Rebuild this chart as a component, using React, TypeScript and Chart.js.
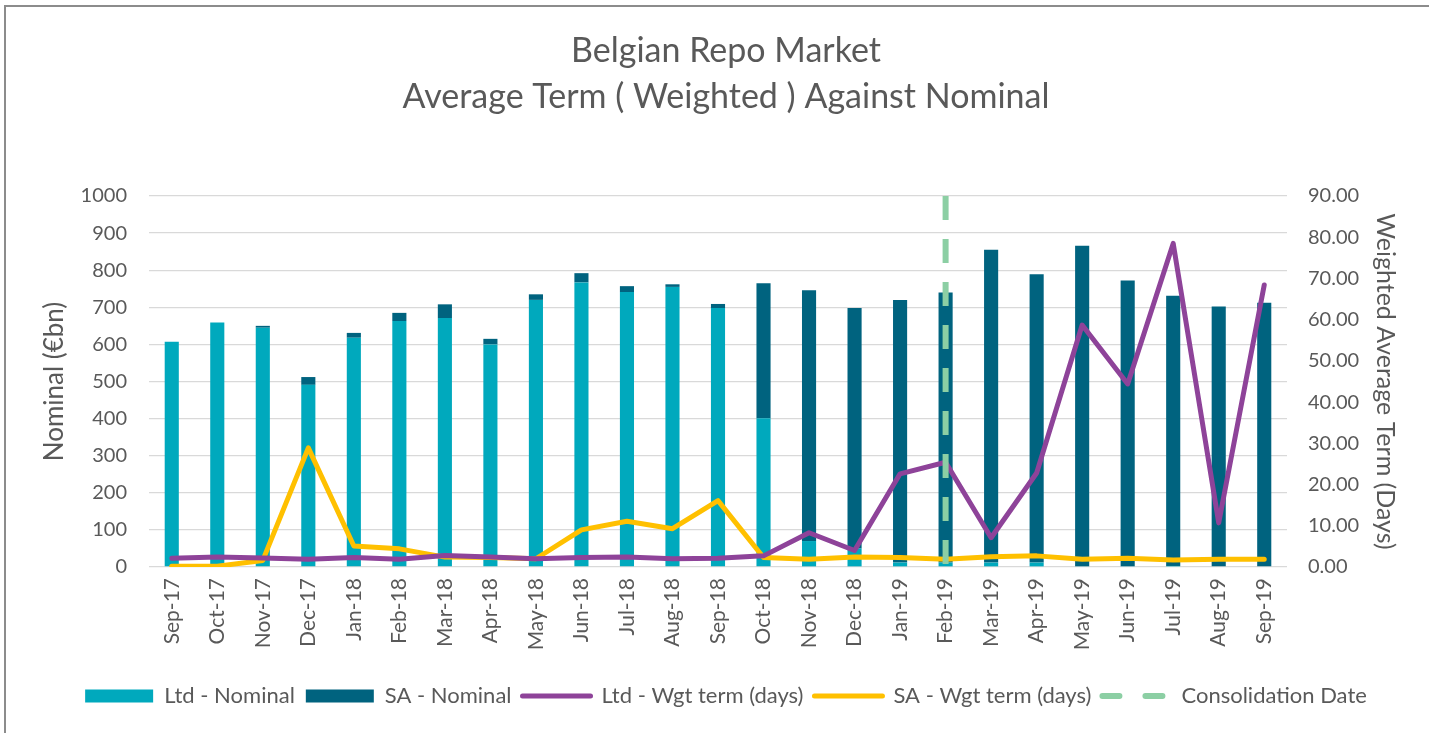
import React, { useEffect, useRef } from 'react';
import { Chart, registerables } from 'chart.js';

Chart.register(...registerables);

const categories = [
  'Sep-17', 'Oct-17', 'Nov-17', 'Dec-17', 'Jan-18', 'Feb-18', 'Mar-18', 'Apr-18', 'May-18',
  'Jun-18', 'Jul-18', 'Aug-18', 'Sep-18', 'Oct-18', 'Nov-18', 'Dec-18', 'Jan-19', 'Feb-19',
  'Mar-19', 'Apr-19', 'May-19', 'Jun-19', 'Jul-19', 'Aug-19', 'Sep-19',
];

const ltdNominal = [607, 659, 645, 491, 618, 663, 671, 600, 720, 767, 741, 755, 698, 401, 70, 50, 12, 12, 12, 12, 2, 2, 3, 0, 0];
const saNominal = [0, 0, 5, 21, 13, 22, 37, 15, 15, 25, 16, 7, 11, 364, 676, 648, 708, 728, 843, 777, 864, 770, 728, 702, 712];
const ltdTerm = [2.1, 2.4, 2.2, 1.9, 2.3, 1.9, 2.8, 2.4, 2.0, 2.3, 2.4, 2.0, 2.1, 2.7, 8.3, 4.0, 22.6, 25.4, 7.1, 22.8, 58.7, 44.4, 78.5, 10.7, 68.4];
const saTerm = [0.2, 0.2, 1.6, 28.9, 5.1, 4.4, 2.4, 2.3, 2.0, 9.0, 11.1, 9.3, 16.1, 2.3, 1.9, 2.4, 2.3, 1.9, 2.5, 2.7, 1.9, 2.1, 1.7, 1.9, 1.9];

const consolidationDate = 'Feb-19';

const seriesLabels = ['Ltd - Nominal', 'SA - Nominal', 'Ltd - Wgt term (days)', 'SA - Wgt term (days)', 'Consolidation Date'];
const titleLines = ['Belgian Repo Market', 'Average Term ( Weighted ) Against Nominal'];
const leftAxisTitle = 'Nominal (€bn)';
const rightAxisTitle = 'Weighted Average Term (Days)';
const leftTicks = { min: 0, max: 1000, step: 100 };
const rightTicks = { min: 0, max: 90, step: 10, decimals: 2 };

const FONT = 'Lato, "Open Sans", sans-serif';
const TEXT = '#595959';
const LTD_BAR = '#00A9BD';
const SA_BAR = '#00637F';
const PURPLE = '#8E4399';
const YELLOW = '#FFC000';
const GREEN = '#8CCFA4';

const consolidationPlugin = {
  id: 'consolidationLine',
  afterDatasetsDraw(chart: any) {
    const idx = categories.indexOf(consolidationDate);
    if (idx < 0) return;
    const x = chart.scales.x.getPixelForValue(idx);
    const { top, bottom } = chart.chartArea;
    const ctx = chart.ctx;
    ctx.save();
    ctx.strokeStyle = GREEN;
    ctx.lineWidth = 6;
    ctx.lineCap = 'butt';
    ctx.setLineDash([24, 19]);
    ctx.beginPath();
    ctx.moveTo(x, top);
    ctx.lineTo(x, bottom);
    ctx.stroke();
    ctx.restore();
  },
};

export default function App() {
  const canvasRef = useRef<HTMLCanvasElement | null>(null);

  useEffect(() => {
    if (!canvasRef.current) return;
    const chart = new Chart(canvasRef.current, {
      type: 'bar',
      data: {
        labels: categories,
        datasets: [
          {
            type: 'bar',
            label: seriesLabels[0],
            data: ltdNominal,
            backgroundColor: LTD_BAR,
            borderWidth: 0,
            yAxisID: 'y',
            stack: 'nominal',
            order: 3,
            pointStyle: 'rect',
            barPercentage: 0.31,
            categoryPercentage: 1,
          },
          {
            type: 'bar',
            label: seriesLabels[1],
            data: saNominal,
            backgroundColor: SA_BAR,
            borderWidth: 0,
            yAxisID: 'y',
            stack: 'nominal',
            order: 3,
            pointStyle: 'rect',
            barPercentage: 0.31,
            categoryPercentage: 1,
          },
          {
            type: 'line',
            label: seriesLabels[2],
            data: ltdTerm,
            borderColor: PURPLE,
            backgroundColor: PURPLE,
            borderWidth: 5,
            borderJoinStyle: 'round',
            borderCapStyle: 'round',
            pointRadius: 0,
            pointStyle: 'line',
            tension: 0,
            yAxisID: 'y1',
            order: 1,
          },
          {
            type: 'line',
            label: seriesLabels[3],
            data: saTerm,
            borderColor: YELLOW,
            backgroundColor: YELLOW,
            borderWidth: 5,
            borderJoinStyle: 'round',
            borderCapStyle: 'round',
            pointRadius: 0,
            pointStyle: 'line',
            tension: 0,
            yAxisID: 'y1',
            order: 2,
          },
          {
            type: 'line',
            label: seriesLabels[4],
            data: categories.map(() => null),
            borderColor: GREEN,
            backgroundColor: GREEN,
            borderWidth: 6,
            borderDash: [17, 26],
            borderCapStyle: 'round',
            pointRadius: 0,
            pointStyle: 'line',
            yAxisID: 'y1',
            order: 0,
          },
        ] as any,
      },
      options: {
        responsive: true,
        maintainAspectRatio: false,
        animation: false,
        layout: { padding: { left: 33, right: 10, top: 0, bottom: 16 } },
        plugins: {
          tooltip: { enabled: false },
          title: {
            display: true,
            text: titleLines,
            color: TEXT,
            font: { family: FONT, size: 34, weight: 'normal', lineHeight: 1.353 },
            padding: { top: 28, bottom: 76 },
          },
          legend: {
            position: 'bottom',
            labels: {
              usePointStyle: true,
              pointStyleWidth: 68,
              boxHeight: 13,
              padding: 11,
              color: TEXT,
              font: { family: FONT, size: 22 },
              sort: (a: any, b: any) => a.datasetIndex - b.datasetIndex,
              generateLabels: (c: any) => {
                const items = (Chart.defaults as any).plugins.legend.labels.generateLabels(c);
                return items.map((it: any) => {
                  const ds: any = c.data.datasets[it.datasetIndex];
                  if (ds.type === 'line') {
                    it.lineCap = 'round';
                    it.lineWidth = ds.borderWidth;
                    it.lineDash = ds.borderDash || [];
                    it.strokeStyle = ds.borderColor;
                  }
                  return it;
                });
              },
            },
          },
        },
        scales: {
          x: {
            stacked: true,
            grid: { display: false, drawTicks: false },
            border: { display: false },
            ticks: {
              color: TEXT,
              font: { family: FONT, size: 21 },
              minRotation: 90,
              maxRotation: 90,
              autoSkip: false,
              padding: 11,
            },
            afterFit: (s: any) => { s.height = 107; },
          },
          y: {
            stacked: true,
            position: 'left',
            min: leftTicks.min,
            max: leftTicks.max,
            grid: { color: '#D9D9D9', lineWidth: 1.3, drawTicks: false },
            border: { display: false },
            ticks: {
              stepSize: leftTicks.step,
              color: TEXT,
              font: { family: FONT, size: 20 },
              padding: 22,
              callback: (v: any) => String(v),
            },
            title: {
              display: true,
              text: leftAxisTitle,
              color: TEXT,
              font: { family: FONT, size: 26 },
              padding: { top: 6.4, bottom: 0 },
            },
            afterFit: (s: any) => { s.width = 116; },
          },
          y1: {
            position: 'right',
            min: rightTicks.min,
            max: rightTicks.max,
            grid: { display: false, drawTicks: false },
            border: { display: false },
            ticks: {
              stepSize: rightTicks.step,
              color: TEXT,
              font: { family: FONT, size: 20 },
              padding: 21,
              callback: (v: any) => Number(v).toFixed(rightTicks.decimals),
            },
            title: {
              display: true,
              text: rightAxisTitle,
              color: TEXT,
              font: { family: FONT, size: 25 },
              padding: { top: 19, bottom: 0 },
            },
            afterFit: (s: any) => { s.width = 132; },
          },
        },
      } as any,
      plugins: [consolidationPlugin],
    });
    return () => chart.destroy();
  }, []);

  return (
    <>
      <div
        style={{
          position: 'fixed',
          left: 4,
          top: 5,
          width: 1425,
          height: 728,
          boxSizing: 'border-box',
          borderLeft: '2px solid #8c8c8c',
          borderTop: '2px solid #8c8c8c',
          background: '#ffffff',
        }}
      />
      <div style={{ position: 'fixed', left: 0, top: 0, width: 1429, height: 733 }}>
        <canvas ref={canvasRef} />
      </div>
    </>
  );
}
